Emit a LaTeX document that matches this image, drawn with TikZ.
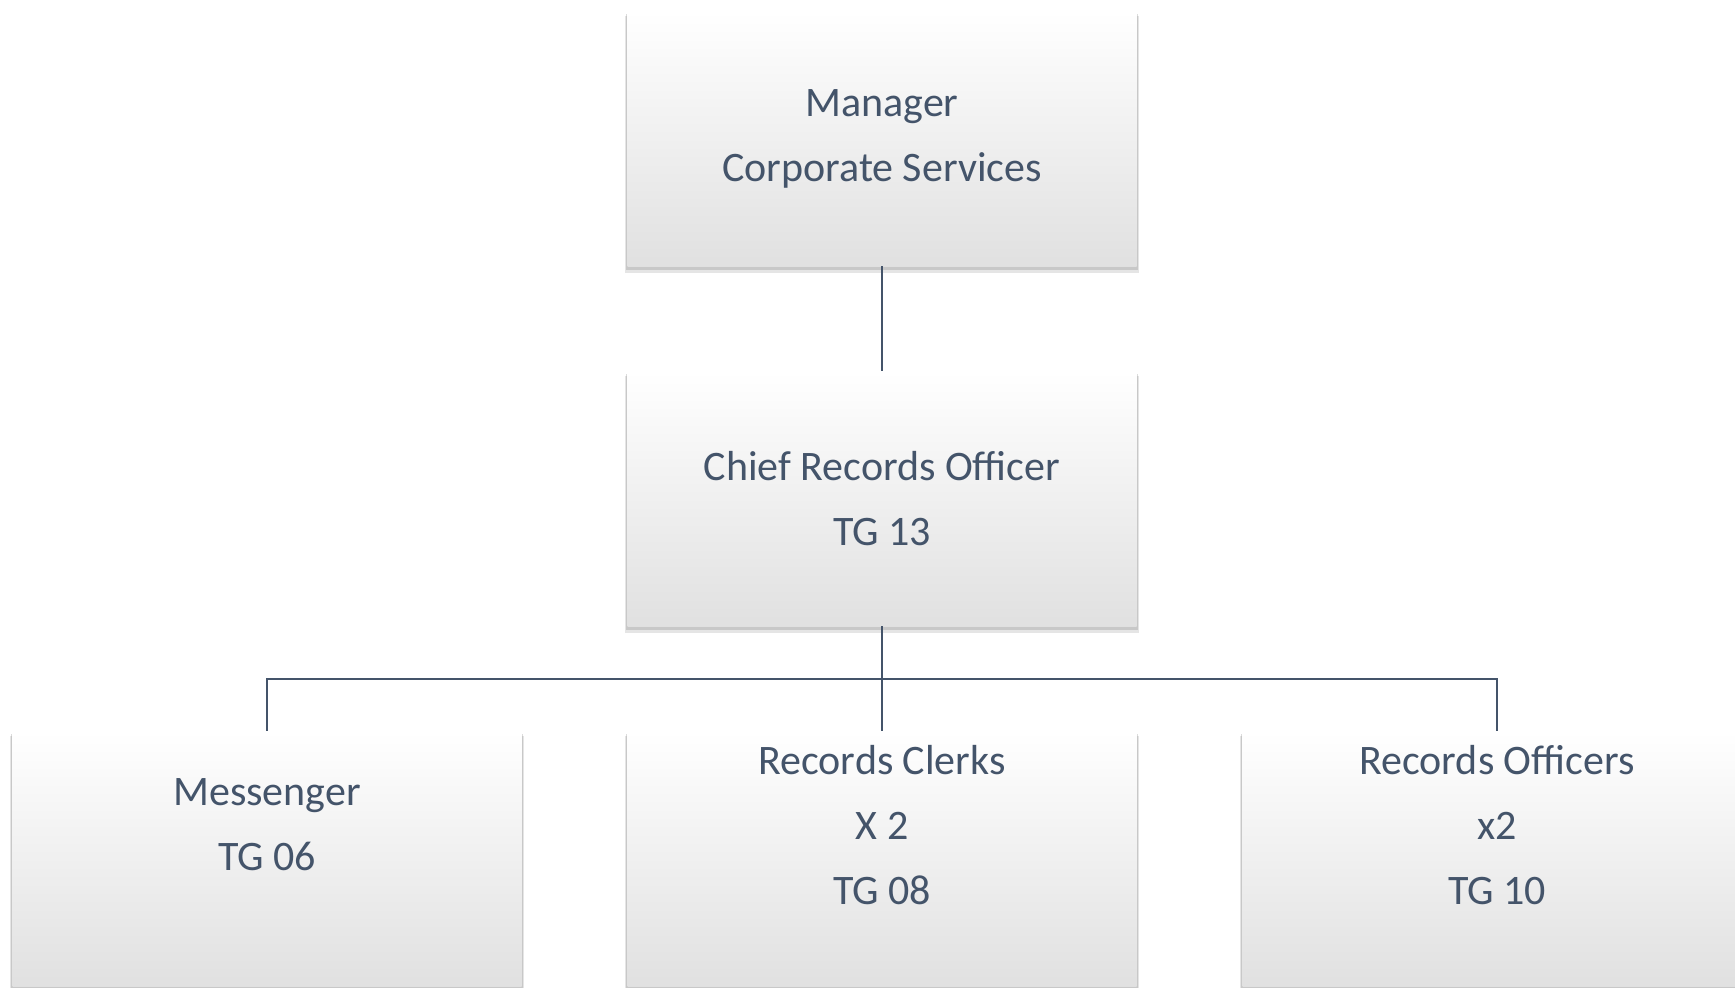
\documentclass[tikz,border=0pt]{standalone}
\usepackage{fontspec}
\setmainfont{Carlito}
\usetikzlibrary{shadows}
\definecolor{slate}{HTML}{44546A}
\begin{document}
\begin{tikzpicture}[
    x=0.5pt, y=-0.5pt,
    box/.style={rectangle, minimum width=254.5pt, minimum height=127.5pt,
      inner sep=0pt, align=center, text=slate,
      font=\fontsize{21}{32.5}\selectfont,
      top color=white, middle color=white, bottom color=black!12,
      general shadow={shadow yshift=-3pt, shadow scale=1.008, fill=black, opacity=.1},
      drop shadow={shadow xshift=0pt, shadow yshift=-1.8pt, shadow scale=1.005, opacity=.28}},
    level distance=180pt,
    level 2/.style={sibling distance=307.5pt,
      every node/.append style={text depth=33.5pt}},
    edge from parent/.style={draw=slate, line width=1pt},
    edge from parent path={(\tikzparentnode.south) -- ++(0,-26.5pt) -| (\tikzchildnode.north)}
  ]
  \useasboundingbox (0,0) rectangle (1735,987);
  \node (root) [box] at (882,138.5) {Manager\\Corporate Services}
  child {node (0) [box] {Chief Records Officer\\TG 13}
    child {node (00) [box] {Messenger\\TG 06}}
    child {node (01) [box] {Records Clerks\\X 2\\TG 08}}
    child {node (02) [box] {Records Officers\\x2\\TG 10}}};
\end{tikzpicture}
\end{document}
